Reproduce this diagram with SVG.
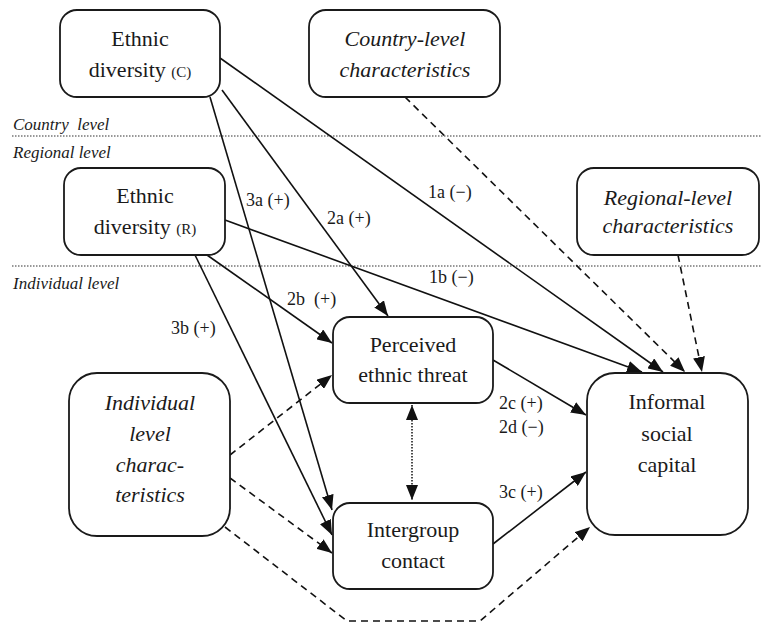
<svg xmlns="http://www.w3.org/2000/svg" width="761" height="623" viewBox="0 0 761 623">
<defs>
<marker id="ah" markerUnits="userSpaceOnUse" markerWidth="15" markerHeight="12" viewBox="0 0 15 12" refX="15" refY="6" orient="auto-start-reverse">
<path d="M0,0 L15,6 L0,12 z" fill="#111"/>
</marker>
<style>
text{font-family:"Liberation Serif","Times New Roman",serif;fill:#1a1a1a}
.box{fill:#fff;stroke:#1a1a1a;stroke-width:1.8}
.t{font-size:22px;text-anchor:middle}
.ti{font-style:italic}
.sm{font-size:15px}
.lab{font-size:18px}
.lvl{font-size:17px;font-style:italic}
.sep{stroke:#333;stroke-width:1.2;stroke-dasharray:1.5 1.5;fill:none}
.e{stroke:#111;stroke-width:1.6;fill:none;marker-end:url(#ah)}
.d{stroke-dasharray:7 5}
.dot{stroke-dasharray:1.5 1.5;stroke-width:1.5;marker-start:url(#ah)}
</style>
</defs>

<g id="levels">
<line class="sep" x1="12" y1="136" x2="761" y2="136"/>
<line class="sep" x1="12" y1="266" x2="761" y2="266"/>
<text class="lvl" x="13" y="130" xml:space="preserve">Country  level</text>
<text class="lvl" x="13" y="158">Regional level</text>
<text class="lvl" x="13" y="289">Individual level</text>
</g>

<g id="connectors">
<line class="e" x1="220" y1="58" x2="663" y2="372"/>
<line class="e" x1="225" y1="220" x2="642" y2="372"/>
<line class="e d" x1="405" y1="97" x2="685" y2="372"/>
<line class="e d" x1="678" y1="255" x2="702" y2="372"/>
<line class="e" x1="210" y1="97" x2="332" y2="510"/>
<line class="e" x1="222" y1="90" x2="388" y2="316"/>
<line class="e" x1="207" y1="255" x2="332" y2="343"/>
<line class="e" x1="195" y1="255" x2="332" y2="535"/>
<line class="e" x1="493" y1="360" x2="586" y2="415"/>
<line class="e" x1="493" y1="544" x2="586" y2="472"/>
<line class="e dot" x1="412" y1="405" x2="412" y2="500"/>
<line class="e d" x1="230" y1="455" x2="332" y2="375"/>
<line class="e d" x1="230" y1="478" x2="332" y2="553"/>
<polyline class="e d" points="225,527 347,621 480,621 590,527"/>
</g>

<g id="edge-labels">
<text class="lab" x="246" y="206">3a (+)</text>
<text class="lab" x="327" y="224">2a (+)</text>
<text class="lab" x="428" y="198">1a (−)</text>
<text class="lab" x="429" y="283">1b (−)</text>
<text class="lab" x="287" y="305" xml:space="preserve">2b  (+)</text>
<text class="lab" x="171" y="334">3b (+)</text>
<text class="lab" x="499" y="409">2c (+)</text>
<text class="lab" x="499" y="433">2d (−)</text>
<text class="lab" x="499" y="498">3c (+)</text>
</g>

<g id="ethnic-diversity-c">
<rect class="box" x="60" y="10" width="160" height="87" rx="17"/>
<text class="t" x="140" y="46">Ethnic</text>
<text class="t" x="140" y="77">diversity <tspan class="sm">(C)</tspan></text>
</g>

<g id="country-level-characteristics">
<rect class="box" x="309" y="10" width="191" height="87" rx="17"/>
<text class="t ti" x="405" y="46">Country-level</text>
<text class="t ti" x="405" y="77">characteristics</text>
</g>

<g id="ethnic-diversity-r">
<rect class="box" x="64" y="168" width="161" height="87" rx="17"/>
<text class="t" x="145" y="203">Ethnic</text>
<text class="t" x="145" y="234">diversity <tspan class="sm">(R)</tspan></text>
</g>

<g id="regional-level-characteristics">
<rect class="box" x="577" y="168" width="182" height="87" rx="17"/>
<text class="t ti" x="668" y="205">Regional-level</text>
<text class="t ti" x="668" y="233">characteristics</text>
</g>

<g id="perceived-ethnic-threat">
<rect class="box" x="333" y="317" width="160" height="86" rx="17"/>
<text class="t" x="413" y="352">Perceived</text>
<text class="t" x="413" y="382">ethnic threat</text>
</g>

<g id="intergroup-contact">
<rect class="box" x="333" y="503" width="160" height="86" rx="17"/>
<text class="t" x="413" y="537">Intergroup</text>
<text class="t" x="413" y="568">contact</text>
</g>

<g id="individual-level-characteristics">
<rect class="box" x="69" y="373" width="161" height="163" rx="28"/>
<text class="t ti" x="150" y="410">Individual</text>
<text class="t ti" x="150" y="441">level</text>
<text class="t ti" x="150" y="472">charac-</text>
<text class="t ti" x="150" y="502">teristics</text>
</g>

<g id="informal-social-capital">
<rect class="box" x="587" y="373" width="161" height="162" rx="28"/>
<text class="t" x="667" y="409">Informal</text>
<text class="t" x="667" y="441">social</text>
<text class="t" x="667" y="472">capital</text>
</g>
</svg>
